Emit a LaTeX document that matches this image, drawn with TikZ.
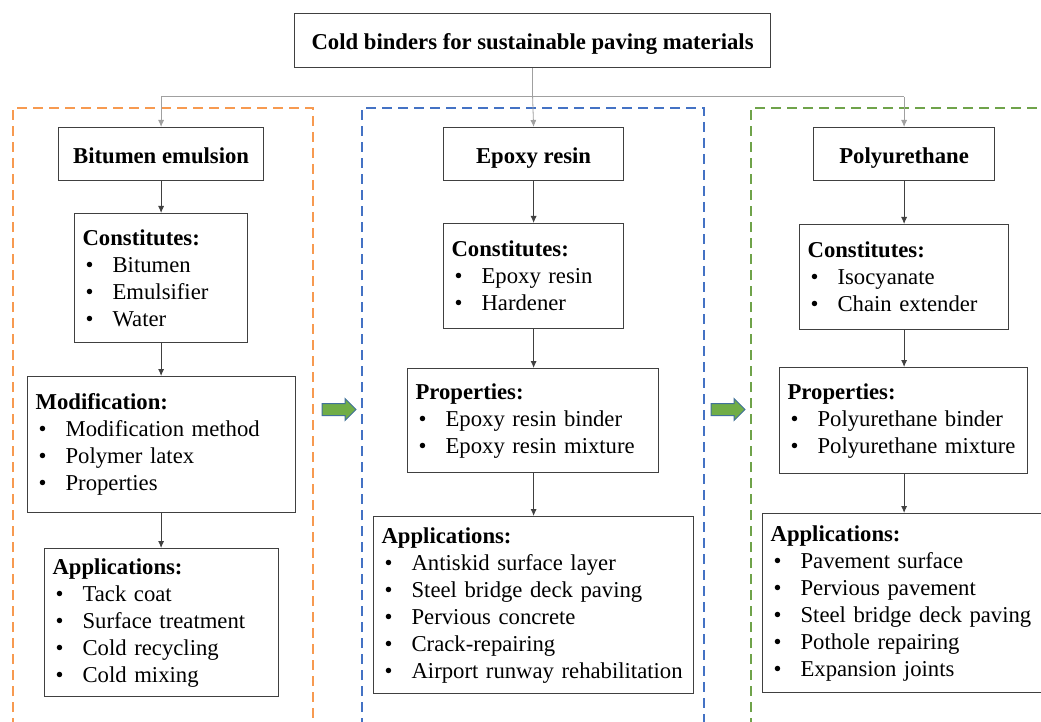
\documentclass[tikz,border=0pt]{standalone}
\usepackage{fontspec}
\setmainfont{Liberation Serif}
\usetikzlibrary{arrows.meta}
\definecolor{boxc}{HTML}{404040}
\definecolor{connc}{HTML}{404040}
\definecolor{topc}{HTML}{A0A0A0}
\definecolor{orangec}{HTML}{F79A50}
\definecolor{bluec}{HTML}{4472C4}
\definecolor{greenc}{HTML}{6FA34A}
\definecolor{arrfill}{HTML}{70AD47}
\definecolor{arrdraw}{HTML}{41719C}
\newcommand{\myfont}{\fontsize{22.7}{27}\selectfont}
\newcommand{\bl}[1]{\makebox[30pt][l]{\hspace{3pt}\textbullet}#1}
\tikzset{
  box/.style={draw=boxc, line width=1.2pt, anchor=north west, inner ysep=0pt, inner xsep=8pt, align=left, font=\myfont},
  headbox/.style={draw=boxc, line width=1.2pt, anchor=north west, inner sep=0pt, align=center, font=\myfont\bfseries, text height=20pt, text depth=2pt},
  conn/.style={draw=connc, line width=0.8pt, -{Latex[length=7pt,width=6pt]}},
  topconn/.style={draw=topc, line width=1pt},
  dashbox/.style={line width=2pt, dash pattern=on 10pt off 6pt},
  blockarrow/.style={fill=arrfill, draw=arrdraw, line width=1pt, line join=miter},
}
\begin{document}
\begin{tikzpicture}[x=1pt, y=-1pt]
\useasboundingbox (0,0) rectangle (1041,722);
\clip (0,0) rectangle (1041,722);

% dashed groups
\draw[dashbox, orangec] (13,760) -- (13,108) -- (313,108) -- (313,760);
\draw[dashbox, bluec] (362,760) -- (362,108) -- (704,108) -- (704,760);
\draw[dashbox, greenc] (751,760) -- (751,108) -- (1080,108);

% top
\node[headbox, minimum width=476pt, minimum height=54pt] (top) at (294,13) {Cold binders for sustainable paving materials};

% headers
\node[headbox, minimum width=205pt, minimum height=53pt] (bit) at (58,127) {Bitumen emulsion};
\node[headbox, minimum width=180pt, minimum height=53pt] (epo) at (443,127) {Epoxy resin};
\node[headbox, minimum width=181pt, minimum height=53pt] (pu) at (813,127) {Polyurethane};

% left column
\node[box, text width=157pt, minimum height=129pt] (c1) at (74,213)
  {\textbf{Constitutes:}\\ \bl{Bitumen}\\ \bl{Emulsifier}\\ \bl{Water}};
\node[box, text width=252pt, minimum height=136pt] (m1) at (27,376)
  {\textbf{Modification:}\\ \bl{Modification method}\\ \bl{Polymer latex}\\ \bl{Properties}};
\node[box, text width=218pt, minimum height=148pt] (a1) at (44,548)
  {\textbf{Applications:}\\ \bl{Tack coat}\\ \bl{Surface treatment}\\ \bl{Cold recycling}\\ \bl{Cold mixing}};

% middle column
\node[box, text width=164pt, minimum height=105pt] (c2) at (443,223)
  {\textbf{Constitutes:}\\ \bl{Epoxy resin}\\ \bl{Hardener}};
\node[box, text width=235pt, minimum height=104pt] (p2) at (407,368)
  {\textbf{Properties:}\\ \bl{Epoxy resin binder}\\ \bl{Epoxy resin mixture}};
\node[box, text width=304pt, minimum height=177pt] (a2) at (373,516)
  {\textbf{Applications:}\\ \bl{Antiskid surface layer}\\ \bl{Steel bridge deck paving}\\ \bl{Pervious concrete}\\ \bl{Crack-repairing}\\ \bl{Airport runway rehabilitation}};

% right column
\node[box, text width=193pt, minimum height=105pt] (c3) at (799,224)
  {\textbf{Constitutes:}\\ \bl{Isocyanate}\\ \bl{Chain extender}};
\node[box, text width=232pt, minimum height=106pt] (p3) at (779,367)
  {\textbf{Properties:}\\ \bl{Polyurethane binder}\\ \bl{Polyurethane mixture}};
\node[box, text width=282pt, minimum height=179pt] (a3) at (762,513)
  {\textbf{Applications:}\\ \bl{Pavement surface}\\ \bl{Pervious pavement}\\ \bl{Steel bridge deck paving}\\ \bl{Pothole repairing}\\ \bl{Expansion joints}};

% top connectors
\coordinate (j) at (top.south |- 0,97);
\draw[topconn] (top.south) -- (j);
\draw[topconn] (bit.north |- j) -- (pu.north |- j);
\draw[conn, draw=topc] (j) -- (epo.north);
\draw[conn, draw=topc] (bit.north |- j) -- (bit.north);
\draw[conn, draw=topc] (pu.north |- j) -- (pu.north);

% column connectors
\draw[conn] (bit.south) -- (c1.north);
\draw[conn] (c1.south) -- (c1.south |- m1.north);
\draw[conn] (m1.south -| c1.south) -- (c1.south |- a1.north);
\draw[conn] (epo.south) -- (c2.north);
\draw[conn] (c2.south) -- (c2.south |- p2.north);
\draw[conn] (c2.south |- p2.south) -- (c2.south |- a2.north);
\draw[conn] (pu.south) -- (pu.south |- c3.north);
\draw[conn] (pu.south |- c3.south) -- (pu.south |- p3.north);
\draw[conn] (pu.south |- p3.south) -- (pu.south |- a3.north);

% block arrows
\draw[blockarrow] (322,403.5) -- (345,403.5) -- (345,398.5) -- (356,409.5) -- (345,420.5) -- (345,415.5) -- (322,415.5) -- cycle;
\draw[blockarrow] (711,403.5) -- (734,403.5) -- (734,398.5) -- (745,409.5) -- (734,420.5) -- (734,415.5) -- (711,415.5) -- cycle;
\end{tikzpicture}
\end{document}
